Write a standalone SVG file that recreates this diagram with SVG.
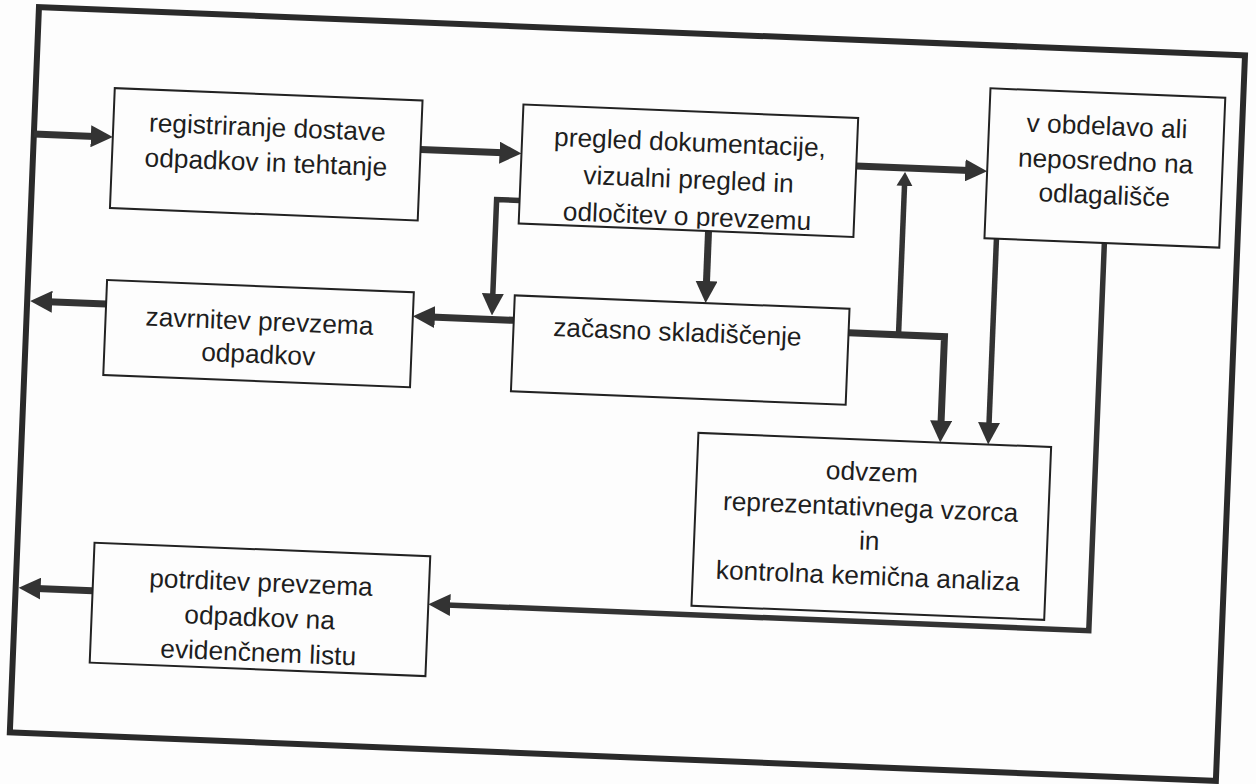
<svg xmlns="http://www.w3.org/2000/svg" width="1256" height="784" viewBox="0 0 1256 784">
  <style>
    .frame { fill: none; stroke: #2a2a2a; stroke-width: 6; }
    .box { fill: #fdfdfd; stroke: #222; stroke-width: 2; }
    .lbl { font-family: "Liberation Sans", Arial, sans-serif; font-size: 26.3px; fill: #1e1e1e; text-anchor: middle; }
    .c { fill: none; stroke: #333; stroke-width: 7; stroke-linejoin: miter; }
    .t { fill: none; stroke: #333; stroke-width: 5.5; stroke-linejoin: miter; }
  </style>
  <defs>
    <marker id="ah" viewBox="0 0 22 22" markerWidth="22" markerHeight="22" markerUnits="userSpaceOnUse" refX="4" refY="11" orient="auto">
      <path d="M0,0 L22,11 L0,22 z" fill="#333"/>
    </marker>
    <marker id="ahs" viewBox="0 0 14 16" markerWidth="14" markerHeight="16" markerUnits="userSpaceOnUse" refX="3" refY="8" orient="auto">
      <path d="M0,0 L14,8 L0,16 z" fill="#333"/>
    </marker>
    <clipPath id="clip2">
      <rect x="512" y="109" width="335" height="117"/>
    </clipPath>
  </defs>
  <rect x="0" y="0" width="1256" height="784" fill="#fdfdfd"/>
  <g transform="rotate(2.3 628 392)">
    <rect id="frame" class="frame" x="24" y="31" width="1207" height="726"/>

    <g id="connectors">
      <path class="c" d="M24,158 H85" marker-end="url(#ah)"/>
      <path class="c" d="M411,158 H494" marker-end="url(#ah)"/>
      <path class="c" d="M847,157 H960" marker-end="url(#ah)"/>
      <path class="t" d="M896,324 V172" marker-end="url(#ahs)"/>
      <path class="c" d="M846,324 H942 V412" marker-end="url(#ah)"/>
      <path class="c" d="M702,228 V282" marker-end="url(#ah)"/>
      <path class="t" d="M512,205 H489 V303" marker-end="url(#ah)"/>
      <path class="c" d="M511,325 H428" marker-end="url(#ah)"/>
      <path class="c" d="M103,325 H45" marker-end="url(#ah)"/>
      <path class="t" d="M990,224 V412" marker-end="url(#ah)"/>
      <path class="t" d="M1098,224 V612 H455" marker-end="url(#ah)"/>
      <path class="c" d="M101,612 H45" marker-end="url(#ah)"/>
    </g>

    <g id="n-registriranje">
      <rect class="box" x="103" y="109" width="308" height="120"/>
      <text class="lbl" x="257" y="151">registriranje dostave</text>
      <text class="lbl" x="257" y="186">odpadkov in tehtanje</text>
    </g>

    <g id="n-pregled">
      <rect class="box" x="512" y="109" width="335" height="119"/>
      <g clip-path="url(#clip2)">
        <text class="lbl" x="680" y="149">pregled dokumentacije,</text>
        <text class="lbl" x="680" y="186">vizualni pregled in</text>
        <text class="lbl" x="680" y="223">odločitev o prevzemu</text>
      </g>
    </g>

    <g id="n-obdelava">
      <rect class="box" x="978" y="74" width="235" height="150"/>
      <text class="lbl" x="1096" y="116">v obdelavo ali</text>
      <text class="lbl" x="1096" y="151">neposredno na</text>
      <text class="lbl" x="1096" y="185">odlagališče</text>
    </g>

    <g id="n-zavrnitev">
      <rect class="box" x="103" y="301" width="307" height="95"/>
      <text class="lbl" x="257" y="345">zavrnitev prevzema</text>
      <text class="lbl" x="257" y="378">odpadkov</text>
    </g>

    <g id="n-skladiscenje">
      <rect class="box" x="511" y="300" width="335" height="96"/>
      <text class="lbl" x="675" y="339">začasno skladiščenje</text>
    </g>

    <g id="n-odvzem">
      <rect class="box" x="700" y="430" width="353" height="173"/>
      <text class="lbl" x="875" y="471">odvzem</text>
      <text class="lbl" x="875" y="506">reprezentativnega vzorca</text>
      <text class="lbl" x="875" y="540">in</text>
      <text class="lbl" x="875" y="575">kontrolna kemična analiza</text>
    </g>

    <g id="n-potrditev">
      <rect class="box" x="101" y="564" width="336" height="120"/>
      <text class="lbl" x="269" y="606">potrditev prevzema</text>
      <text class="lbl" x="269" y="641">odpadkov na</text>
      <text class="lbl" x="269" y="676">evidenčnem listu</text>
    </g>
  </g>
</svg>
